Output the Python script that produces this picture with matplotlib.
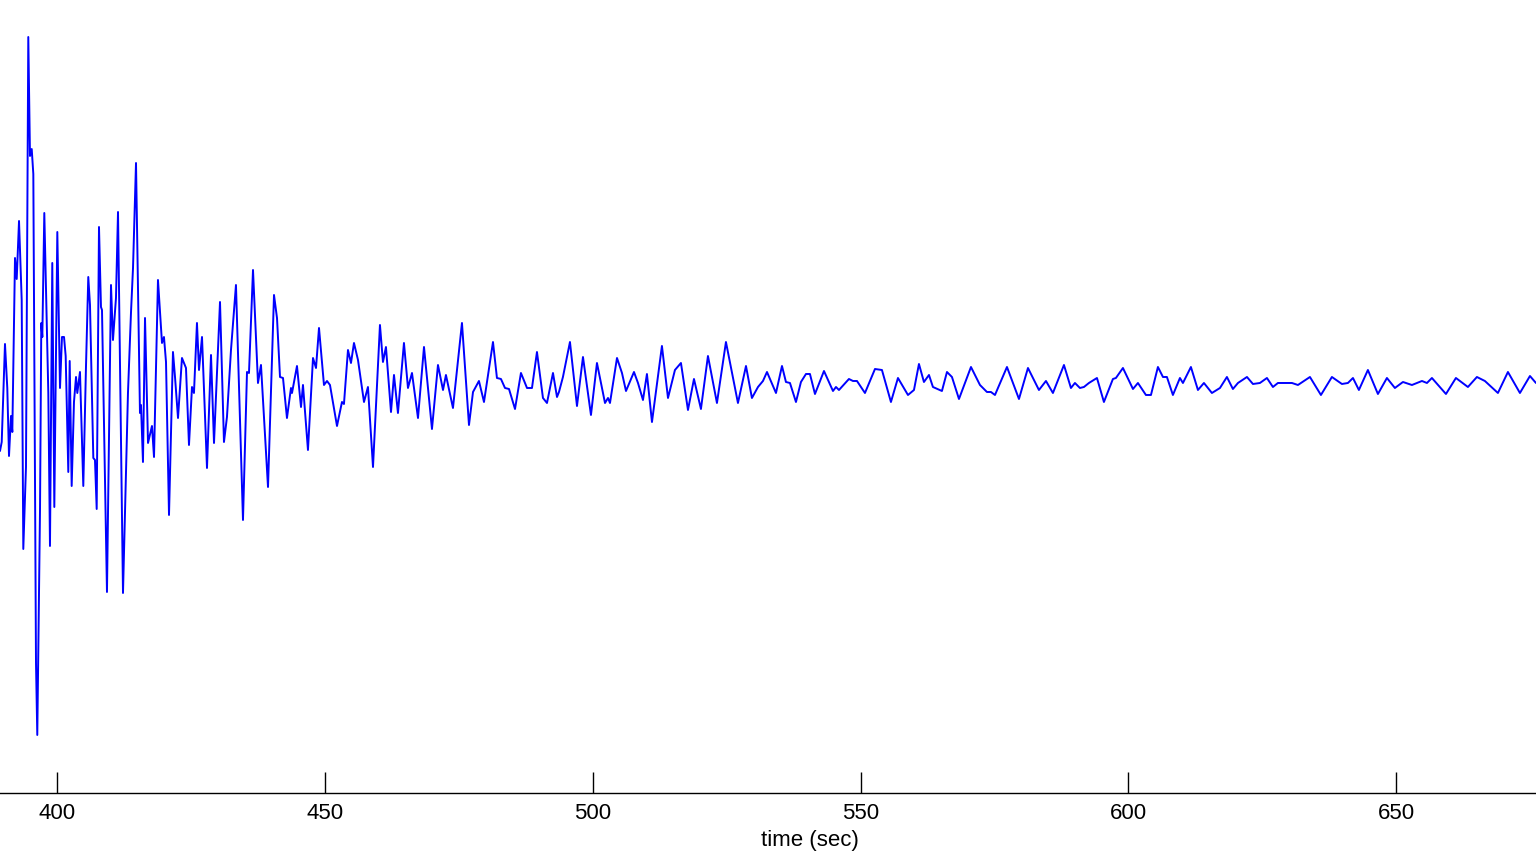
import matplotlib
matplotlib.use("Agg")
import matplotlib.pyplot as plt

# seismogram trace, turning points only
time_s = [
    389.36, 389.68, 390.29, 390.72, 391.04, 391.41, 391.66, 392.16, 392.48, 392.91,
    393.41, 393.71, 394.21, 394.64, 394.96, 395.28, 395.58, 396.08, 396.32, 396.83,
    397.07, 397.26, 397.63, 398.38, 398.69, 399.12, 399.50, 400.06, 400.56, 400.93,
    401.31, 401.62, 402.11, 402.37, 402.74, 403.17, 403.55, 403.79, 404.29, 404.91,
    405.41, 405.84, 406.16, 406.78, 407.09, 407.41, 407.84,
    408.21, 408.40, 409.33, 410.08, 410.45, 411.01, 411.39, 412.32, 413.25, 413.81,
    414.19, 414.75, 415.49, 415.68, 416.05, 416.43, 416.99, 417.73, 418.11, 418.85,
    419.60, 419.97, 420.35, 420.91, 421.65, 422.03, 422.59, 423.33, 424.08, 424.64,
    425.20,
    425.57, 426.13, 426.51, 427.07, 428.00, 428.75, 429.31, 430.43, 431.17, 431.73,
    432.48, 433.41, 434.72, 435.47, 435.84, 436.59, 437.52, 438.08, 439.39, 440.51,
    441.07, 441.63, 442.19, 442.93, 443.68, 443.87, 444.80,
    445.55, 445.92, 446.85, 447.79, 448.35, 448.91, 449.84, 450.40, 450.96, 452.27,
    453.20, 453.57, 454.32, 454.88, 455.44, 456.19, 457.31, 458.05, 458.99, 460.29,
    460.85, 461.41, 462.35, 462.91, 463.65, 464.77, 465.52, 466.27, 467.39, 468.51,
    470.00, 471.12,
    472.06, 472.61, 473.92, 475.60, 476.91, 477.66, 478.77, 479.71, 481.39, 482.13,
    482.88, 483.63, 484.38, 485.50, 486.61, 487.74, 488.67, 489.60, 490.72, 491.47,
    492.59, 493.34, 493.71, 494.45, 495.76, 497.07, 498.19, 499.68, 500.80,
    502.30, 502.86, 503.23, 504.54, 505.47, 506.22, 507.71, 508.46, 509.39, 510.13,
    511.07, 512.93, 514.06, 515.36, 516.48, 517.79, 518.91, 520.21, 521.52, 523.20,
    524.88, 527.12, 528.62, 529.73, 530.86,
    531.79, 532.54, 534.22, 535.34, 536.08, 536.83, 537.95, 538.88, 539.82, 540.56,
    541.50, 543.18, 544.86, 545.42, 545.98, 547.84, 548.59, 549.34, 550.83, 552.70,
    554.00, 555.68, 556.99, 558.86, 559.98, 560.91, 561.84, 562.78, 563.52, 565.20,
    566.14, 567.07, 568.38, 570.62, 572.30, 573.60, 574.35, 575.10, 577.34,
    579.58, 581.26, 583.31, 584.62, 585.92, 587.98, 589.28, 590.03, 590.96, 591.71,
    592.64, 594.14, 595.44, 597.12, 597.68, 598.99, 600.86, 601.79, 603.28, 604.22,
    605.52, 606.46, 607.20, 608.32, 609.63, 610.19, 611.68, 612.99, 614.11, 615.60,
    617.10, 618.40, 619.52, 620.46, 622.14, 623.26, 624.56, 625.87,
    626.99, 627.92, 629.60, 630.54, 631.66, 633.90, 635.95, 638.00, 639.87, 640.99,
    641.93, 643.04, 644.72, 646.59, 648.27, 649.76, 651.26, 652.94, 654.81, 655.74,
    656.67, 659.29, 661.15, 663.39, 665.07, 666.56, 668.99, 670.86, 673.10, 674.97,
    676.09,
]

amplitude = [
    -68, -59, 39, -5, -73, -33, -49, 125, 104, 162,
    83, -166, -84, 346, 227, 234, 209, -280, -352, -126,
    60, 46, 170, -10, -163, 120, -124, 151, -5, 46,
    46, 27, -89, 22, -103, -19, 6, -10, 11, -103,
    16, 106, 78, -75, -77, -126, 156,
    76, 73, -209, 98, 43, 85, 171, -210, -10, 70,
    115, 220, -30, -22, -79, 65, -60, -43, -74, 103,
    40, 46, 21, -132, 31, 6, -35, 25, 15, -62,
    -4,
    -10, 60, 13, 46, -85, 28, -60, 81, -59, -34,
    33, 98, -137, 11, 10, 113, 0, 18, -104, 88,
    65, 6, 5, -35, -5, -10, 17,
    -24, -2, -67, 25, 15, 55, -2, 2, -2, -43,
    -19, -21, 33, 20, 40, 23, -19, -4, -84, 58,
    21, 36, -29, 8, -30, 40, -5, 10, -35, 36,
    -46, 18,
    -7, 8, -25, 60, -42, -9, 2, -19, 41, 5,
    4, -5, -6, -26, 10, -5, -5, 31, -15, -20,
    10, -14, -9, 6, 41, -23, 26, -32, 20,
    -20, -15, -20, 25, 10, -8, 11, 0, -17, 9,
    -39, 37, -15, 13, 20, -27, 4, -26, 27, -20,
    41, -20, 17, -15, -4,
    2, 11, -10, 17, 1, 0, -19, 1, 9, 9,
    -11, 12, -8, -4, -7, 4, 2, 2, -10, 14,
    13, -19, 5, -12, -7, 19, 1, 8, -4, -8,
    11, 6, -16, 16, -2, -9, -9, -12, 16,
    -16, 15, -7, 2, -10, 18, -5, 0, -5, -4,
    0, 5, -19, 4, 5, 15, -6, 0, -12, -12,
    16, 6, 6, -12, 5, 0, 16, -7, 0, -10,
    -5, 6, -6, 0, 6, -1, 0, 5,
    -4, 0, 0, 0, -2, 6, -12, 6, -1, 0,
    5, -7, 13, -11, 5, -5, 1, -2, 2, 0,
    5, -11, 5, -4, 6, 2, -10, 11, -10, 7,
    0,
]

tick_values = [400, 450, 500, 550, 600, 650]

plt.rcParams["font.family"] = ["Liberation Sans", "DejaVu Sans"]

fig = plt.figure(figsize=(15.36, 8.64), dpi=100)
ax = fig.add_axes([0.0, 0.0822, 1.0, 0.9178])

ax.plot(time_s, amplitude, color="#0000ff", linewidth=1.4,
        solid_joinstyle="round", solid_capstyle="round")

ax.set_xlim(389.36, 676.1)
ax.set_ylim(-410, 383)

for side in ["top", "left", "right"]:
    ax.spines[side].set_visible(False)
ax.spines["bottom"].set_linewidth(1.0)

ax.set_yticks([])
ax.set_xticks(tick_values)
ax.set_xticklabels([str(v) for v in tick_values])
ax.tick_params(axis="x", direction="in", length=15, width=1.0, pad=7,
               labelsize=16, colors="black")
ax.set_xlabel("time (sec)", fontsize=16)
# the original axes ran past the right edge of the picture, so the label sits right of centre
ax.xaxis.set_label_coords(0.527, -0.060)
ax.xaxis.label.set_verticalalignment("center")

fig.savefig("out.png", dpi=100)
